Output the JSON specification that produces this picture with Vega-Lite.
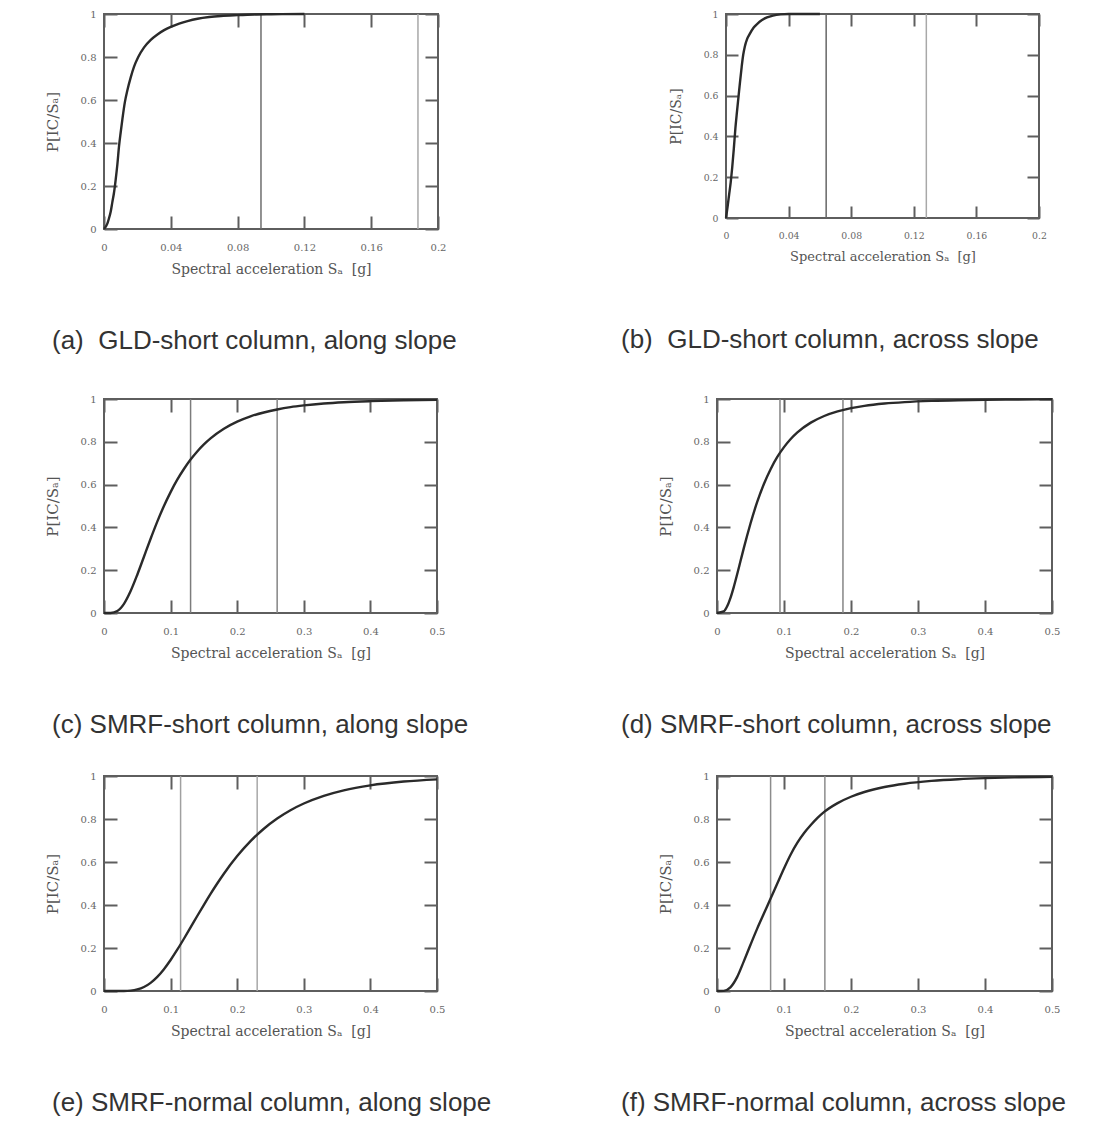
{
  "$schema": "https://vega.github.io/schema/vega-lite/v6.json",
  "padding": {"left": 44, "top": 8, "right": 0, "bottom": 0},
  "background": "white",
  "bounds": "flush",
  "spacing": 385,
  "datasets": {
    "a_curve": [
      {"sa": 0, "p": 0}, {"sa": 0.002, "p": 0.025}, {"sa": 0.003, "p": 0.05}, {"sa": 0.004, "p": 0.08},
      {"sa": 0.005, "p": 0.125}, {"sa": 0.006, "p": 0.17}, {"sa": 0.007, "p": 0.23}, {"sa": 0.008, "p": 0.3},
      {"sa": 0.009, "p": 0.385}, {"sa": 0.01, "p": 0.45}, {"sa": 0.011, "p": 0.51}, {"sa": 0.0125, "p": 0.59},
      {"sa": 0.014, "p": 0.645}, {"sa": 0.016, "p": 0.705}, {"sa": 0.018, "p": 0.755}, {"sa": 0.0205, "p": 0.8},
      {"sa": 0.024, "p": 0.845}, {"sa": 0.028, "p": 0.88}, {"sa": 0.032, "p": 0.905}, {"sa": 0.036, "p": 0.925},
      {"sa": 0.04, "p": 0.94}, {"sa": 0.045, "p": 0.955}, {"sa": 0.05, "p": 0.967}, {"sa": 0.056, "p": 0.978},
      {"sa": 0.063, "p": 0.986}, {"sa": 0.07, "p": 0.991}, {"sa": 0.08, "p": 0.995}, {"sa": 0.09, "p": 0.998},
      {"sa": 0.1, "p": 0.999}, {"sa": 0.12, "p": 1}
    ],
    "a_lines": [{"sa": 0.094, "level": "DBE"}, {"sa": 0.188, "level": "MCE"}],
    "b_curve": [
      {"sa": 0, "p": 0}, {"sa": 0.001, "p": 0.055}, {"sa": 0.002, "p": 0.115}, {"sa": 0.003, "p": 0.175},
      {"sa": 0.004, "p": 0.25}, {"sa": 0.005, "p": 0.34}, {"sa": 0.006, "p": 0.44}, {"sa": 0.007, "p": 0.52},
      {"sa": 0.008, "p": 0.595}, {"sa": 0.009, "p": 0.67}, {"sa": 0.01, "p": 0.74}, {"sa": 0.011, "p": 0.8},
      {"sa": 0.012, "p": 0.84}, {"sa": 0.0134, "p": 0.876}, {"sa": 0.015, "p": 0.9}, {"sa": 0.0177, "p": 0.934},
      {"sa": 0.02, "p": 0.952}, {"sa": 0.023, "p": 0.97}, {"sa": 0.0262, "p": 0.983}, {"sa": 0.03, "p": 0.992},
      {"sa": 0.035, "p": 0.998}, {"sa": 0.04, "p": 1}, {"sa": 0.06, "p": 1}
    ],
    "b_lines": [{"sa": 0.064, "level": "DBE"}, {"sa": 0.128, "level": "MCE"}],
    "c_curve": [
      {"sa": 0, "p": 0}, {"sa": 0.01, "p": 0.0003}, {"sa": 0.02, "p": 0.0094}, {"sa": 0.03, "p": 0.043},
      {"sa": 0.04, "p": 0.1026}, {"sa": 0.05, "p": 0.179}, {"sa": 0.06, "p": 0.263}, {"sa": 0.07, "p": 0.347},
      {"sa": 0.08, "p": 0.427}, {"sa": 0.09, "p": 0.5}, {"sa": 0.1, "p": 0.565}, {"sa": 0.11, "p": 0.623},
      {"sa": 0.12, "p": 0.673}, {"sa": 0.13, "p": 0.717}, {"sa": 0.14, "p": 0.755}, {"sa": 0.15, "p": 0.788},
      {"sa": 0.16, "p": 0.816}, {"sa": 0.18, "p": 0.861}, {"sa": 0.2, "p": 0.894}, {"sa": 0.22, "p": 0.919},
      {"sa": 0.24, "p": 0.937}, {"sa": 0.26, "p": 0.951}, {"sa": 0.28, "p": 0.962}, {"sa": 0.3, "p": 0.97},
      {"sa": 0.33, "p": 0.979}, {"sa": 0.36, "p": 0.985}, {"sa": 0.4, "p": 0.99}, {"sa": 0.45, "p": 0.994},
      {"sa": 0.5, "p": 0.996}
    ],
    "c_lines": [{"sa": 0.13, "level": "DBE"}, {"sa": 0.26, "level": "MCE"}],
    "d_curve": [
      {"sa": 0, "p": 0}, {"sa": 0.01, "p": 0.0073}, {"sa": 0.015, "p": 0.03}, {"sa": 0.02, "p": 0.0696},
      {"sa": 0.025, "p": 0.1212}, {"sa": 0.03, "p": 0.18}, {"sa": 0.035, "p": 0.2415}, {"sa": 0.04, "p": 0.303},
      {"sa": 0.045, "p": 0.362}, {"sa": 0.05, "p": 0.418}, {"sa": 0.06, "p": 0.519}, {"sa": 0.07, "p": 0.603},
      {"sa": 0.08, "p": 0.672}, {"sa": 0.09, "p": 0.729}, {"sa": 0.1, "p": 0.775}, {"sa": 0.11, "p": 0.813},
      {"sa": 0.12, "p": 0.844}, {"sa": 0.14, "p": 0.8895}, {"sa": 0.16, "p": 0.9206}, {"sa": 0.18, "p": 0.9421},
      {"sa": 0.2, "p": 0.9572}, {"sa": 0.22, "p": 0.968}, {"sa": 0.25, "p": 0.9788}, {"sa": 0.28, "p": 0.9856},
      {"sa": 0.32, "p": 0.9912}, {"sa": 0.36, "p": 0.9944}, {"sa": 0.4, "p": 0.9963}, {"sa": 0.45, "p": 0.9978},
      {"sa": 0.5, "p": 0.9986}
    ],
    "d_lines": [{"sa": 0.094, "level": "DBE"}, {"sa": 0.188, "level": "MCE"}],
    "e_curve": [
      {"sa": 0, "p": 0}, {"sa": 0.03, "p": 0.0003}, {"sa": 0.04, "p": 0.0019}, {"sa": 0.05, "p": 0.0072},
      {"sa": 0.06, "p": 0.0186}, {"sa": 0.07, "p": 0.038}, {"sa": 0.08, "p": 0.0658}, {"sa": 0.09, "p": 0.1017},
      {"sa": 0.1, "p": 0.1443}, {"sa": 0.11, "p": 0.192}, {"sa": 0.12, "p": 0.243}, {"sa": 0.13, "p": 0.2958},
      {"sa": 0.14, "p": 0.3489}, {"sa": 0.15, "p": 0.4011}, {"sa": 0.16, "p": 0.4518}, {"sa": 0.17, "p": 0.5},
      {"sa": 0.18, "p": 0.5455}, {"sa": 0.2, "p": 0.6274}, {"sa": 0.22, "p": 0.697}, {"sa": 0.24, "p": 0.7548},
      {"sa": 0.26, "p": 0.8023}, {"sa": 0.28, "p": 0.8409}, {"sa": 0.3, "p": 0.872}, {"sa": 0.33, "p": 0.9077},
      {"sa": 0.36, "p": 0.9333}, {"sa": 0.4, "p": 0.9565}, {"sa": 0.45, "p": 0.9742}, {"sa": 0.5, "p": 0.9845}
    ],
    "e_lines": [{"sa": 0.115, "level": "DBE"}, {"sa": 0.23, "level": "MCE"}],
    "f_curve": [
      {"sa": 0, "p": 0}, {"sa": 0.01, "p": 0.0008}, {"sa": 0.02, "p": 0.017}, {"sa": 0.03, "p": 0.0646},
      {"sa": 0.04, "p": 0.1379}, {"sa": 0.05, "p": 0.215}, {"sa": 0.06, "p": 0.29}, {"sa": 0.07, "p": 0.36},
      {"sa": 0.08, "p": 0.43}, {"sa": 0.09, "p": 0.5}, {"sa": 0.1, "p": 0.57}, {"sa": 0.11, "p": 0.635},
      {"sa": 0.12, "p": 0.69}, {"sa": 0.13, "p": 0.735}, {"sa": 0.14, "p": 0.772}, {"sa": 0.15, "p": 0.805},
      {"sa": 0.16, "p": 0.833}, {"sa": 0.18, "p": 0.874}, {"sa": 0.2, "p": 0.9035}, {"sa": 0.22, "p": 0.9255},
      {"sa": 0.25, "p": 0.9488}, {"sa": 0.28, "p": 0.9642}, {"sa": 0.32, "p": 0.9772}, {"sa": 0.36, "p": 0.9852},
      {"sa": 0.4, "p": 0.9901}, {"sa": 0.45, "p": 0.9939}, {"sa": 0.5, "p": 0.9961}
    ],
    "f_lines": [{"sa": 0.08, "level": "DBE"}, {"sa": 0.161, "level": "MCE"}]
  },
  "vconcat": [
    {
      "bounds": "flush",
      "spacing": 288,
      "resolve": {"scale": {"color": "independent"}},
      "hconcat": [
        {
          "width": 334, "height": 215,
          "title": {"text": "(a)\u00a0 GLD-short column, along slope", "orient": "bottom", "anchor": "start", "frame": "group", "dx": -52, "offset": 52},
          "layer": [
            {"data": {"name": "a_curve"}, "mark": {"type": "line", "opacity": 0},
             "encoding": {
               "x": {"field": "sa", "type": "quantitative", "scale": {"domain": [0, 0.2], "nice": false, "zero": false}, "axis": {"orient": "top", "values": [0, 0.04, 0.08, 0.12, 0.16, 0.2], "labels": false, "title": null}},
               "y": {"field": "p", "type": "quantitative", "scale": {"domain": [0, 1], "nice": false}, "axis": {"orient": "right", "values": [0, 0.2, 0.4, 0.6, 0.8, 1], "labels": false, "title": null}}}},
            {"data": {"name": "a_lines"}, "mark": {"type": "rule", "strokeWidth": 1.5},
             "encoding": {
               "x": {"field": "sa", "type": "quantitative", "axis": null},
               "color": {"field": "level", "type": "nominal", "scale": {"range": ["#6e6e6e", "#a8a8a8"]}, "legend": null}}},
            {"data": {"name": "a_curve"}, "mark": {"type": "line", "color": "#2a2a2a", "strokeWidth": 2.4, "interpolate": "monotone"},
             "encoding": {
               "x": {"field": "sa", "type": "quantitative", "axis": {"orient": "bottom", "values": [0, 0.04, 0.08, 0.12, 0.16, 0.2], "format": "~g", "title": "Spectral acceleration Sₐ\u00a0 [g]"}},
               "y": {"field": "p", "type": "quantitative", "axis": {"orient": "left", "values": [0, 0.2, 0.4, 0.6, 0.8, 1], "format": "~g", "title": "P[IC/Sₐ]"}}}}
          ],
          "resolve": {"axis": {"x": "independent", "y": "independent"}}
        },
        {
          "width": 313, "height": 204,
          "title": {"text": "(b)\u00a0 GLD-short column, across slope", "orient": "bottom", "anchor": "start", "frame": "group", "dx": -105, "offset": 64},
          "layer": [
            {"data": {"name": "b_curve"}, "mark": {"type": "line", "opacity": 0},
             "encoding": {
               "x": {"field": "sa", "type": "quantitative", "scale": {"domain": [0, 0.2], "nice": false, "zero": false}, "axis": {"orient": "top", "values": [0, 0.04, 0.08, 0.12, 0.16, 0.2], "labels": false, "title": null, "tickSize": -12}},
               "y": {"field": "p", "type": "quantitative", "scale": {"domain": [0, 1], "nice": false}, "axis": {"orient": "right", "values": [0, 0.2, 0.4, 0.6, 0.8, 1], "labels": false, "title": null, "tickSize": -12}}}},
            {"data": {"name": "b_lines"}, "mark": {"type": "rule", "strokeWidth": 1.5},
             "encoding": {
               "x": {"field": "sa", "type": "quantitative", "axis": null},
               "color": {"field": "level", "type": "nominal", "scale": {"range": ["#666666", "#a8a8a8"]}, "legend": null}}},
            {"data": {"name": "b_curve"}, "mark": {"type": "line", "color": "#2a2a2a", "strokeWidth": 2.4, "interpolate": "monotone"},
             "encoding": {
               "x": {"field": "sa", "type": "quantitative", "axis": {"orient": "bottom", "values": [0, 0.04, 0.08, 0.12, 0.16, 0.2], "format": "~g", "title": "Spectral acceleration Sₐ\u00a0 [g]", "labelFontSize": 9.3, "titleFontSize": 13, "tickSize": -12, "labelPadding": 25}},
               "y": {"field": "p", "type": "quantitative", "axis": {"orient": "left", "values": [0, 0.2, 0.4, 0.6, 0.8, 1], "format": "~g", "title": "P[IC/Sₐ]", "labelFontSize": 9.3, "titleFontSize": 14, "tickSize": -12, "labelPadding": 20}}}}
          ],
          "resolve": {"axis": {"x": "independent", "y": "independent"}}
        }
      ]
    },
    {
      "bounds": "flush",
      "spacing": 377,
      "resolve": {"scale": {"color": "independent"}},
      "vconcat": [
        {
          "bounds": "flush",
          "spacing": 280,
          "resolve": {"scale": {"color": "independent"}},
          "hconcat": [
            {
              "width": 333, "height": 214,
              "title": {"text": "(c) SMRF-short column, along slope", "orient": "bottom", "anchor": "start", "frame": "group", "dx": -52, "offset": 52},
              "layer": [
                {"data": {"name": "c_curve"}, "mark": {"type": "line", "opacity": 0},
                 "encoding": {
                   "x": {"field": "sa", "type": "quantitative", "scale": {"domain": [0, 0.5], "nice": false, "zero": false}, "axis": {"orient": "top", "values": [0, 0.1, 0.2, 0.3, 0.4, 0.5], "labels": false, "title": null}},
                   "y": {"field": "p", "type": "quantitative", "scale": {"domain": [0, 1], "nice": false}, "axis": {"orient": "right", "values": [0, 0.2, 0.4, 0.6, 0.8, 1], "labels": false, "title": null}}}},
                {"data": {"name": "c_lines"}, "mark": {"type": "rule", "strokeWidth": 1.5},
                 "encoding": {
                   "x": {"field": "sa", "type": "quantitative", "axis": null},
                   "color": {"field": "level", "type": "nominal", "scale": {"range": ["#7c7c7c", "#858585"]}, "legend": null}}},
                {"data": {"name": "c_curve"}, "mark": {"type": "line", "color": "#2a2a2a", "strokeWidth": 2.4, "interpolate": "monotone"},
                 "encoding": {
                   "x": {"field": "sa", "type": "quantitative", "axis": {"orient": "bottom", "values": [0, 0.1, 0.2, 0.3, 0.4, 0.5], "format": "~g", "title": "Spectral acceleration Sₐ\u00a0 [g]"}},
                   "y": {"field": "p", "type": "quantitative", "axis": {"orient": "left", "values": [0, 0.2, 0.4, 0.6, 0.8, 1], "format": "~g", "title": "P[IC/Sₐ]"}}}}
              ],
              "resolve": {"axis": {"x": "independent", "y": "independent"}}
            },
            {
              "width": 335, "height": 214,
              "title": {"text": "(d) SMRF-short column, across slope", "orient": "bottom", "anchor": "start", "frame": "group", "dx": -96, "offset": 52},
              "layer": [
                {"data": {"name": "d_curve"}, "mark": {"type": "line", "opacity": 0},
                 "encoding": {
                   "x": {"field": "sa", "type": "quantitative", "scale": {"domain": [0, 0.5], "nice": false, "zero": false}, "axis": {"orient": "top", "values": [0, 0.1, 0.2, 0.3, 0.4, 0.5], "labels": false, "title": null}},
                   "y": {"field": "p", "type": "quantitative", "scale": {"domain": [0, 1], "nice": false}, "axis": {"orient": "right", "values": [0, 0.2, 0.4, 0.6, 0.8, 1], "labels": false, "title": null}}}},
                {"data": {"name": "d_lines"}, "mark": {"type": "rule", "strokeWidth": 1.5},
                 "encoding": {
                   "x": {"field": "sa", "type": "quantitative", "axis": null},
                   "color": {"field": "level", "type": "nominal", "scale": {"range": ["#858585", "#858585"]}, "legend": null}}},
                {"data": {"name": "d_curve"}, "mark": {"type": "line", "color": "#2a2a2a", "strokeWidth": 2.4, "interpolate": "monotone"},
                 "encoding": {
                   "x": {"field": "sa", "type": "quantitative", "axis": {"orient": "bottom", "values": [0, 0.1, 0.2, 0.3, 0.4, 0.5], "format": "~g", "title": "Spectral acceleration Sₐ\u00a0 [g]"}},
                   "y": {"field": "p", "type": "quantitative", "axis": {"orient": "left", "values": [0, 0.2, 0.4, 0.6, 0.8, 1], "format": "~g", "title": "P[IC/Sₐ]"}}}}
              ],
              "resolve": {"axis": {"x": "independent", "y": "independent"}}
            }
          ]
        },
        {
          "bounds": "flush",
          "spacing": 280,
          "resolve": {"scale": {"color": "independent"}},
          "hconcat": [
            {
              "width": 333, "height": 215,
              "title": {"text": "(e) SMRF-normal column, along slope", "orient": "bottom", "anchor": "start", "frame": "group", "dx": -52, "offset": 52},
              "layer": [
                {"data": {"name": "e_curve"}, "mark": {"type": "line", "opacity": 0},
                 "encoding": {
                   "x": {"field": "sa", "type": "quantitative", "scale": {"domain": [0, 0.5], "nice": false, "zero": false}, "axis": {"orient": "top", "values": [0, 0.1, 0.2, 0.3, 0.4, 0.5], "labels": false, "title": null}},
                   "y": {"field": "p", "type": "quantitative", "scale": {"domain": [0, 1], "nice": false}, "axis": {"orient": "right", "values": [0, 0.2, 0.4, 0.6, 0.8, 1], "labels": false, "title": null}}}},
                {"data": {"name": "e_lines"}, "mark": {"type": "rule", "strokeWidth": 1.5},
                 "encoding": {
                   "x": {"field": "sa", "type": "quantitative", "axis": null},
                   "color": {"field": "level", "type": "nominal", "scale": {"range": ["#a0a0a0", "#a8a8a8"]}, "legend": null}}},
                {"data": {"name": "e_curve"}, "mark": {"type": "line", "color": "#2a2a2a", "strokeWidth": 2.4, "interpolate": "monotone"},
                 "encoding": {
                   "x": {"field": "sa", "type": "quantitative", "axis": {"orient": "bottom", "values": [0, 0.1, 0.2, 0.3, 0.4, 0.5], "format": "~g", "title": "Spectral acceleration Sₐ\u00a0 [g]"}},
                   "y": {"field": "p", "type": "quantitative", "axis": {"orient": "left", "values": [0, 0.2, 0.4, 0.6, 0.8, 1], "format": "~g", "title": "P[IC/Sₐ]"}}}}
              ],
              "resolve": {"axis": {"x": "independent", "y": "independent"}}
            },
            {
              "width": 335, "height": 215,
              "title": {"text": "(f) SMRF-normal column, across slope", "orient": "bottom", "anchor": "start", "frame": "group", "dx": -96, "offset": 52},
              "layer": [
                {"data": {"name": "f_curve"}, "mark": {"type": "line", "opacity": 0},
                 "encoding": {
                   "x": {"field": "sa", "type": "quantitative", "scale": {"domain": [0, 0.5], "nice": false, "zero": false}, "axis": {"orient": "top", "values": [0, 0.1, 0.2, 0.3, 0.4, 0.5], "labels": false, "title": null}},
                   "y": {"field": "p", "type": "quantitative", "scale": {"domain": [0, 1], "nice": false}, "axis": {"orient": "right", "values": [0, 0.2, 0.4, 0.6, 0.8, 1], "labels": false, "title": null}}}},
                {"data": {"name": "f_lines"}, "mark": {"type": "rule", "strokeWidth": 1.5},
                 "encoding": {
                   "x": {"field": "sa", "type": "quantitative", "axis": null},
                   "color": {"field": "level", "type": "nominal", "scale": {"range": ["#8c8c8c", "#8c8c8c"]}, "legend": null}}},
                {"data": {"name": "f_curve"}, "mark": {"type": "line", "color": "#2a2a2a", "strokeWidth": 2.4, "interpolate": "monotone"},
                 "encoding": {
                   "x": {"field": "sa", "type": "quantitative", "axis": {"orient": "bottom", "values": [0, 0.1, 0.2, 0.3, 0.4, 0.5], "format": "~g", "title": "Spectral acceleration Sₐ\u00a0 [g]"}},
                   "y": {"field": "p", "type": "quantitative", "axis": {"orient": "left", "values": [0, 0.2, 0.4, 0.6, 0.8, 1], "format": "~g", "title": "P[IC/Sₐ]"}}}}
              ],
              "resolve": {"axis": {"x": "independent", "y": "independent"}}
            }
          ]
        }
      ]
    }
  ],
  "resolve": {"scale": {"color": "independent"}},
  "config": {
    "view": {"stroke": "#5e5e5e", "strokeWidth": 2},
    "axis": {
      "domain": false, "grid": false,
      "tickColor": "#5e5e5e", "tickWidth": 2, "tickSize": -13,
      "labelFlush": false,
      "labelFont": "DejaVu Serif", "labelFontSize": 10, "labelColor": "#666666",
      "titleFont": "DejaVu Serif", "titleFontSize": 14, "titleFontWeight": "normal", "titleColor": "#555555"
    },
    "axisX": {"labelPadding": 26, "titlePadding": 10},
    "axisY": {"labelPadding": 21, "titlePadding": 20, "titleFontSize": 15},
    "title": {"font": "Liberation Sans", "fontSize": 26, "fontWeight": "normal", "color": "#333333"}
  }
}
